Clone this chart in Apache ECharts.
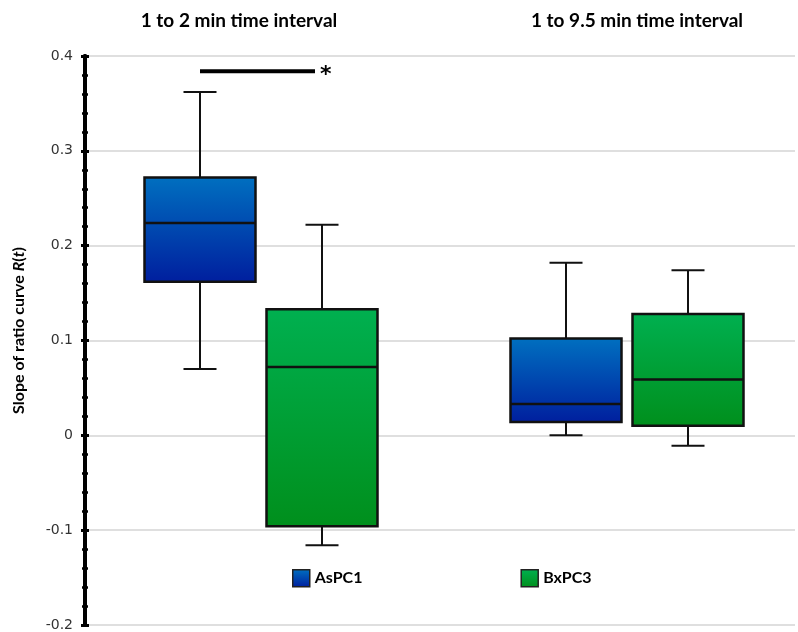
<!DOCTYPE html>
<html>
<head>
<meta charset="utf-8">
<script src="https://cdn.jsdelivr.net/npm/echarts@6/dist/echarts.min.js"></script>
<style>
  html, body { margin: 0; padding: 0; background: #fff; }
  #main { width: 798px; height: 632px; }
</style>
</head>
<body>
<div id="main"></div>
<script>
// 分组和系列数据
var groups = ['1 to 2 min time interval', '1 to 9.5 min time interval'];
var seriesNames = ['AsPC1', 'BxPC3'];
// [min, Q1, median, Q3, max]
var aspc1 = [
  [0.070, 0.162, 0.224, 0.272, 0.362],
  [0.000, 0.014, 0.033, 0.102, 0.182]
];
var bxpc3 = [
  [-0.116, -0.096, 0.072, 0.133, 0.222],
  [-0.011, 0.010, 0.059, 0.128, 0.174]
];
var yTicks = { min: -0.2, max: 0.4, interval: 0.1 };
var sigLevel = 0.384; // 显著性横线的位置

var chart = echarts.init(document.getElementById('main'));

var fills = [
  new echarts.graphic.LinearGradient(0, 0, 0, 1, [
    { offset: 0, color: '#0070c0' }, { offset: 1, color: '#001e9e' }
  ]),
  new echarts.graphic.LinearGradient(0, 0, 0, 1, [
    { offset: 0, color: '#00b050' }, { offset: 1, color: '#008f1c' }
  ])
];

// 每个箱子相对类目中心的偏移
var sideOffset = [-61, 61];
var groupShift = [-1.5, 9.5];
var boxWidth = 111;
var capWidth = 33;

function makeRender(sIdx) {
  return function (params, api) {
    var c = api.value(0);
    var cx = api.coord([c, 0])[0] + groupShift[c] + sideOffset[sIdx];
    var yMin = api.coord([c, api.value(1)])[1];
    var yQ1 = api.coord([c, api.value(2)])[1];
    var yMed = api.coord([c, api.value(3)])[1];
    var yQ3 = api.coord([c, api.value(4)])[1];
    var yMax = api.coord([c, api.value(5)])[1];
    var line = { stroke: '#111', lineWidth: 2 };
    return {
      type: 'group',
      children: [
        { type: 'line', shape: { x1: cx, y1: yMax, x2: cx, y2: yQ3 }, style: line },
        { type: 'line', shape: { x1: cx, y1: yQ1, x2: cx, y2: yMin }, style: line },
        { type: 'line', shape: { x1: cx - capWidth / 2, y1: yMax, x2: cx + capWidth / 2, y2: yMax }, style: line },
        { type: 'line', shape: { x1: cx - capWidth / 2, y1: yMin, x2: cx + capWidth / 2, y2: yMin }, style: line },
        { type: 'rect', shape: { x: cx - boxWidth / 2, y: yQ3, width: boxWidth, height: yQ1 - yQ3 },
          style: { fill: fills[sIdx], stroke: '#111', lineWidth: 2.5 } },
        { type: 'line', shape: { x1: cx - boxWidth / 2, y1: yMed, x2: cx + boxWidth / 2, y2: yMed }, style: { stroke: '#111', lineWidth: 2.5 } }
      ]
    };
  };
}

function toData(arr) {
  return arr.map(function (d, i) { return [i].concat(d); });
}

var yBase = {
  type: 'value',
  position: 'left',
  min: yTicks.min,
  max: yTicks.max,
  interval: yTicks.interval,
  axisLine: { show: true, lineStyle: { color: '#000', width: 4 } }
};

var titleStyle = { fontFamily: 'Lato', fontWeight: 'bold', fontSize: 19, color: '#000' };

var option = {
  animation: false,
  title: [
    { text: groups[0], left: 234, top: 6, textAlign: 'center', textStyle: titleStyle },
    { text: groups[1], left: 632, top: 6, textAlign: 'center', textStyle: titleStyle }
  ],
  legend: {
    left: 292,
    top: 569,
    padding: 0,
    itemWidth: 17,
    itemHeight: 17,
    itemGap: 158,
    icon: 'rect',
    textStyle: { fontFamily: 'Lato', fontWeight: 'bold', fontSize: 16, color: '#000' },
    data: [
      { name: seriesNames[0], itemStyle: { color: fills[0], borderColor: '#222', borderWidth: 1.5 } },
      { name: seriesNames[1], itemStyle: { color: fills[1], borderColor: '#222', borderWidth: 1.5 } }
    ]
  },
  grid: { left: 85, right: 3, top: 56, bottom: 7 },
  xAxis: {
    type: 'category',
    data: groups,
    show: false
  },
  yAxis: [
    Object.assign({}, yBase, {
      name: '{b|Slope of ratio curve }{i|R}{b|(}{i|t}{b|)}',
      nameLocation: 'middle',
      nameGap: 58,
      nameRotate: 90,
      nameTextStyle: {
        padding: [0, 0, 0, 20],
        rich: {
          b: { fontFamily: 'Lato', fontWeight: 'bold', fontSize: 16, color: '#000' },
          i: { fontFamily: 'Lato', fontWeight: 'bold', fontStyle: 'italic', fontSize: 16, color: '#000' }
        }
      },
      axisTick: { show: true, length: 4, lineStyle: { color: '#000', width: 3 } },
      minorTick: { show: true, splitNumber: 5, length: 3, lineStyle: { color: '#000', width: 2.5 } },
      axisLabel: { margin: 12, fontFamily: 'DejaVu Sans', fontSize: 14, color: '#333',
        formatter: function (v) { return String(Math.round(v * 10) / 10); } },
      splitLine: { show: true, lineStyle: { color: '#d4d4d4', width: 1.5 } }
    }),
    Object.assign({}, yBase, {
      axisTick: { show: true, inside: true, length: 4, lineStyle: { color: '#000', width: 3 } },
      minorTick: { show: true, splitNumber: 5, length: 3, lineStyle: { color: '#000', width: 2.5 } },
      axisLabel: { show: false },
      splitLine: { show: false }
    })
  ],
  series: [
    { name: seriesNames[0], type: 'custom', renderItem: makeRender(0), data: toData(aspc1),
      itemStyle: { color: fills[0] }, encode: { x: 0, y: [1, 2, 3, 4, 5] }, z: 3 },
    { name: seriesNames[1], type: 'custom', renderItem: makeRender(1), data: toData(bxpc3),
      itemStyle: { color: fills[1] }, encode: { x: 0, y: [1, 2, 3, 4, 5] }, z: 3 }
  ]
};

chart.setOption(option);

// 显著性标记：从AsPC1箱子中心画到BxPC3箱子左侧
var p0 = chart.convertToPixel({ gridIndex: 0 }, [0, sigLevel]);
var x0 = p0[0] + groupShift[0] + sideOffset[0];
var x1 = p0[0] + groupShift[0] + sideOffset[1] - 7;
chart.setOption({
  graphic: [
    { type: 'line', shape: { x1: x0, y1: p0[1], x2: x1, y2: p0[1] }, style: { stroke: '#000', lineWidth: 4 }, z: 10 },
    { type: 'text', x: x1 + 5, y: p0[1] - 7,
      style: { text: '*', fontFamily: 'DejaVu Sans', fontWeight: 'bold', fontSize: 22, fill: '#000' }, z: 10 }
  ]
});
</script>
</body>
</html>
